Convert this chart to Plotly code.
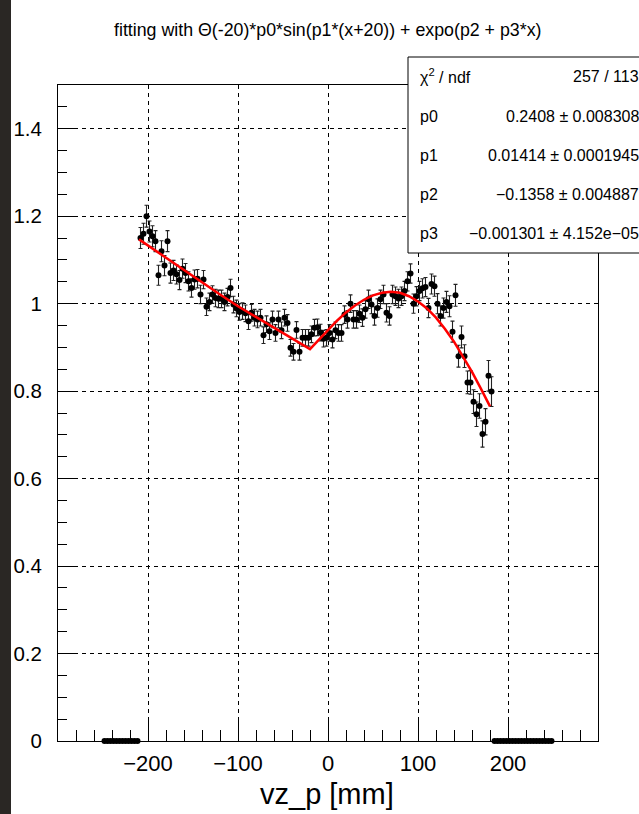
import numpy as np
import plotly.graph_objects as go

# ---------------- data ----------------
HIST_LO, HIST_HI, NBINS = -250.0, 250.0, 150

bin_content = [
    0.0, 0.0, 0.0, 0.0, 0.0, 0.0, 0.0, 0.0, 0.0, 0.0, 0.0, 0.0,
    1.150, 1.160, 1.200, 1.165, 1.154, 1.143, 1.065, 1.120, 1.087, 1.143,
    1.070, 1.076, 1.067, 1.054, 1.080, 1.070, 1.051, 1.036, 1.055, 1.057,
    1.021, 1.055, 0.993, 1.004, 1.021, 1.013, 1.011, 1.011, 1.004, 1.015,
    1.036, 0.998, 0.989, 0.981, 0.983, 0.978, 0.960, 0.979, 0.968, 0.964,
    0.968, 0.928, 0.953, 0.937, 0.964, 0.933, 0.964, 0.939, 0.968, 0.956,
    0.899, 0.890, 0.940, 0.890, 0.922, 0.922, 0.922, 0.930, 0.945, 0.946,
    0.934, 0.920, 0.922, 0.933, 0.918, 0.939, 0.933, 0.933, 0.975, 0.964,
    1.000, 0.964, 0.964, 0.977, 0.968, 0.987, 1.010, 0.998, 0.972, 0.990,
    1.010, 1.021, 0.979, 0.972, 1.021, 1.017, 1.012, 1.017, 1.029, 1.051,
    1.069, 1.000, 1.017, 1.029, 1.035, 1.038, 0.990, 1.045, 1.040, 1.000,
    0.972, 0.990, 1.004, 0.994, 0.936, 1.019, 0.880, 0.924, 0.880, 0.820,
    0.820, 0.776, 0.747, 0.766, 0.702, 0.730, 0.835, 0.799,
    0.0, 0.0, 0.0, 0.0, 0.0, 0.0, 0.0, 0.0, 0.0, 0.0,
    0.0, 0.0, 0.0, 0.0, 0.0, 0.0, 0.0, 0.0, 0.0, 0.0,
]

bin_error = [
    0.0, 0.0, 0.0, 0.0, 0.0, 0.0, 0.0, 0.0, 0.0, 0.0, 0.0, 0.0,
    0.024, 0.024, 0.025, 0.024, 0.024, 0.024, 0.023, 0.024, 0.023, 0.024,
    0.023, 0.023, 0.022, 0.022, 0.022, 0.022, 0.022, 0.021, 0.022, 0.021,
    0.021, 0.021, 0.020, 0.020, 0.020, 0.020, 0.020, 0.020, 0.020, 0.020,
    0.020, 0.019, 0.019, 0.019, 0.019, 0.019, 0.019, 0.019, 0.019, 0.019,
    0.019, 0.019, 0.019, 0.019, 0.019, 0.019, 0.019, 0.019, 0.019, 0.019,
    0.019, 0.019, 0.019, 0.019, 0.019, 0.019, 0.019, 0.019, 0.019, 0.019,
    0.019, 0.019, 0.019, 0.019, 0.019, 0.019, 0.019, 0.019, 0.020, 0.020,
    0.020, 0.020, 0.020, 0.020, 0.020, 0.020, 0.021, 0.021, 0.021, 0.021,
    0.021, 0.021, 0.021, 0.021, 0.021, 0.021, 0.021, 0.021, 0.022, 0.022,
    0.022, 0.022, 0.022, 0.022, 0.022, 0.022, 0.022, 0.023, 0.023, 0.023,
    0.023, 0.023, 0.024, 0.024, 0.024, 0.025, 0.025, 0.025, 0.026, 0.026,
    0.027, 0.027, 0.028, 0.028, 0.030, 0.030, 0.035, 0.034,
    0.0, 0.0, 0.0, 0.0, 0.0, 0.0, 0.0, 0.0, 0.0, 0.0,
    0.0, 0.0, 0.0, 0.0, 0.0, 0.0, 0.0, 0.0, 0.0, 0.0,
]

# fitted function
fit_x = [-210, -200, -180, -160, -140, -120, -100, -80, -60, -40, -20,
         -10, 0, 10, 20, 30, 40, 50, 60, 70, 80, 90, 100, 110, 120,
         130, 140, 150, 160, 170, 180]
fit_y = [1.147, 1.133, 1.103, 1.075, 1.047, 1.021, 0.994, 0.969, 0.944, 0.920, 0.896,
         0.918, 0.940, 0.961, 0.980, 0.996, 1.009, 1.019, 1.025, 1.027, 1.025, 1.017,
         1.005, 0.989, 0.968, 0.942, 0.913, 0.880, 0.844, 0.805, 0.765]

x_ticks = [-200, -100, 0, 100, 200]
y_ticks = [0, 0.2, 0.4, 0.6, 0.8, 1.0, 1.2, 1.4]
y_ticktext = ["0", "0.2", "0.4", "0.6", "0.8", "1", "1.2", "1.4"]

title_text = "fitting with \u0398(-20)*p0*sin(p1*(x+20)) + expo(p2 + p3*x)"
x_title = "vz_p [mm]"
stat_labels = ["\u03c7<sup>2</sup> / ndf", "p0", "p1", "p2", "p3"]
stat_values = ["257 / 113",
               "0.2408 \u00b1 0.008308",
               "0.01414 \u00b1 0.0001945",
               "\u22120.1358 \u00b1 0.004887",
               "\u22120.001301 \u00b1 4.152e\u221205"]

# ---------------- layout geometry (pixels) ----------------
W, H = 639, 814
PL, PR, PT, PB = 58, 598, 85, 741
FONT = "Liberation Sans, Arial, Helvetica, sans-serif"


def px_x(p):
    return (p - PL) / (PR - PL)


def px_y(p):
    return (PB - p) / (PB - PT)


edges = np.linspace(HIST_LO, HIST_HI, NBINS + 1)
centers = 0.5 * (edges[:-1] + edges[1:])

fig = go.Figure()
fig.add_trace(go.Scatter(
    x=centers, y=bin_content, mode="markers",
    marker=dict(color="black", size=6, symbol="circle"),
    error_y=dict(type="data", array=bin_error, color="#222222",
                 thickness=1.1, width=2),
    cliponaxis=False, showlegend=False, hoverinfo="x+y",
))
fig.add_trace(go.Scatter(
    x=fit_x, y=fit_y, mode="lines",
    line=dict(color="#ff0000", width=2.5),
    showlegend=False,
))

axis_common = dict(
    showline=True, linecolor="black", linewidth=1, mirror=True,
    ticks="inside", tickcolor="black", tickwidth=1,
    showgrid=True, gridcolor="black", gridwidth=1, griddash="4px,4px",
    zeroline=False,
)

fig.update_layout(
    width=W, height=H,
    margin=dict(l=PL, r=W - PR, t=PT, b=H - PB, pad=0),
    paper_bgcolor="white", plot_bgcolor="white",
    font=dict(family=FONT, color="black"),
    xaxis=dict(range=[-300, 300], tickvals=x_ticks, ticklen=22,
               ticklabelstandoff=3,
               tickfont=dict(family=FONT, size=22, color="black"),
               minor=dict(ticks="inside", ticklen=11, dtick=20, tick0=0,
                          tickcolor="black", showgrid=False),
               **axis_common),
    yaxis=dict(range=[0, 1.5], tickvals=y_ticks, ticktext=y_ticktext,
               ticklen=17, ticklabelstandoff=11,
               tickfont=dict(family=FONT, size=20.5, color="black"),
               minor=dict(ticks="inside", ticklen=9, dtick=0.05, tick0=0,
                          tickcolor="black", showgrid=False),
               **axis_common),
)

shapes = [
    # stats box
    dict(type="rect", xref="paper", yref="paper",
         x0=px_x(408), x1=px_x(652), y0=px_y(253), y1=px_y(57),
         line=dict(color="black", width=1), fillcolor="white", layer="above"),
    # dark strip of the screenshot at the left edge
    dict(type="rect", xref="paper", yref="paper",
         x0=px_x(0), x1=px_x(11), y0=px_y(H), y1=px_y(0),
         line=dict(width=0), fillcolor="#2a2724", layer="above"),
]
fig.update_layout(shapes=shapes)

ann = []
ann.append(dict(text=title_text, xref="paper", yref="paper",
                x=px_x(327.5), y=px_y(30), xanchor="center", yanchor="middle",
                showarrow=False, font=dict(family=FONT, size=17.8, color="black")))
ann.append(dict(text=x_title, xref="paper", yref="paper",
                x=px_x(327), y=px_y(794), xanchor="center", yanchor="middle",
                showarrow=False, font=dict(family=FONT, size=29, color="black")))
row_y = [76, 116, 155, 194, 233]
for lab, val, ry in zip(stat_labels, stat_values, row_y):
    ann.append(dict(text=lab, xref="paper", yref="paper",
                    x=px_x(418), y=px_y(ry), xanchor="left", yanchor="middle",
                    showarrow=False, font=dict(family=FONT, size=16, color="black")))
    ann.append(dict(text=val, xref="paper", yref="paper",
                    x=px_x(641), y=px_y(ry), xanchor="right", yanchor="middle",
                    showarrow=False, font=dict(family=FONT, size=16, color="black")))
fig.update_layout(annotations=ann)

fig.write_html(
    "out.html",
    config={"displayModeBar": False},
    post_script="document.body.style.margin='0';document.body.style.overflow='hidden';",
)
